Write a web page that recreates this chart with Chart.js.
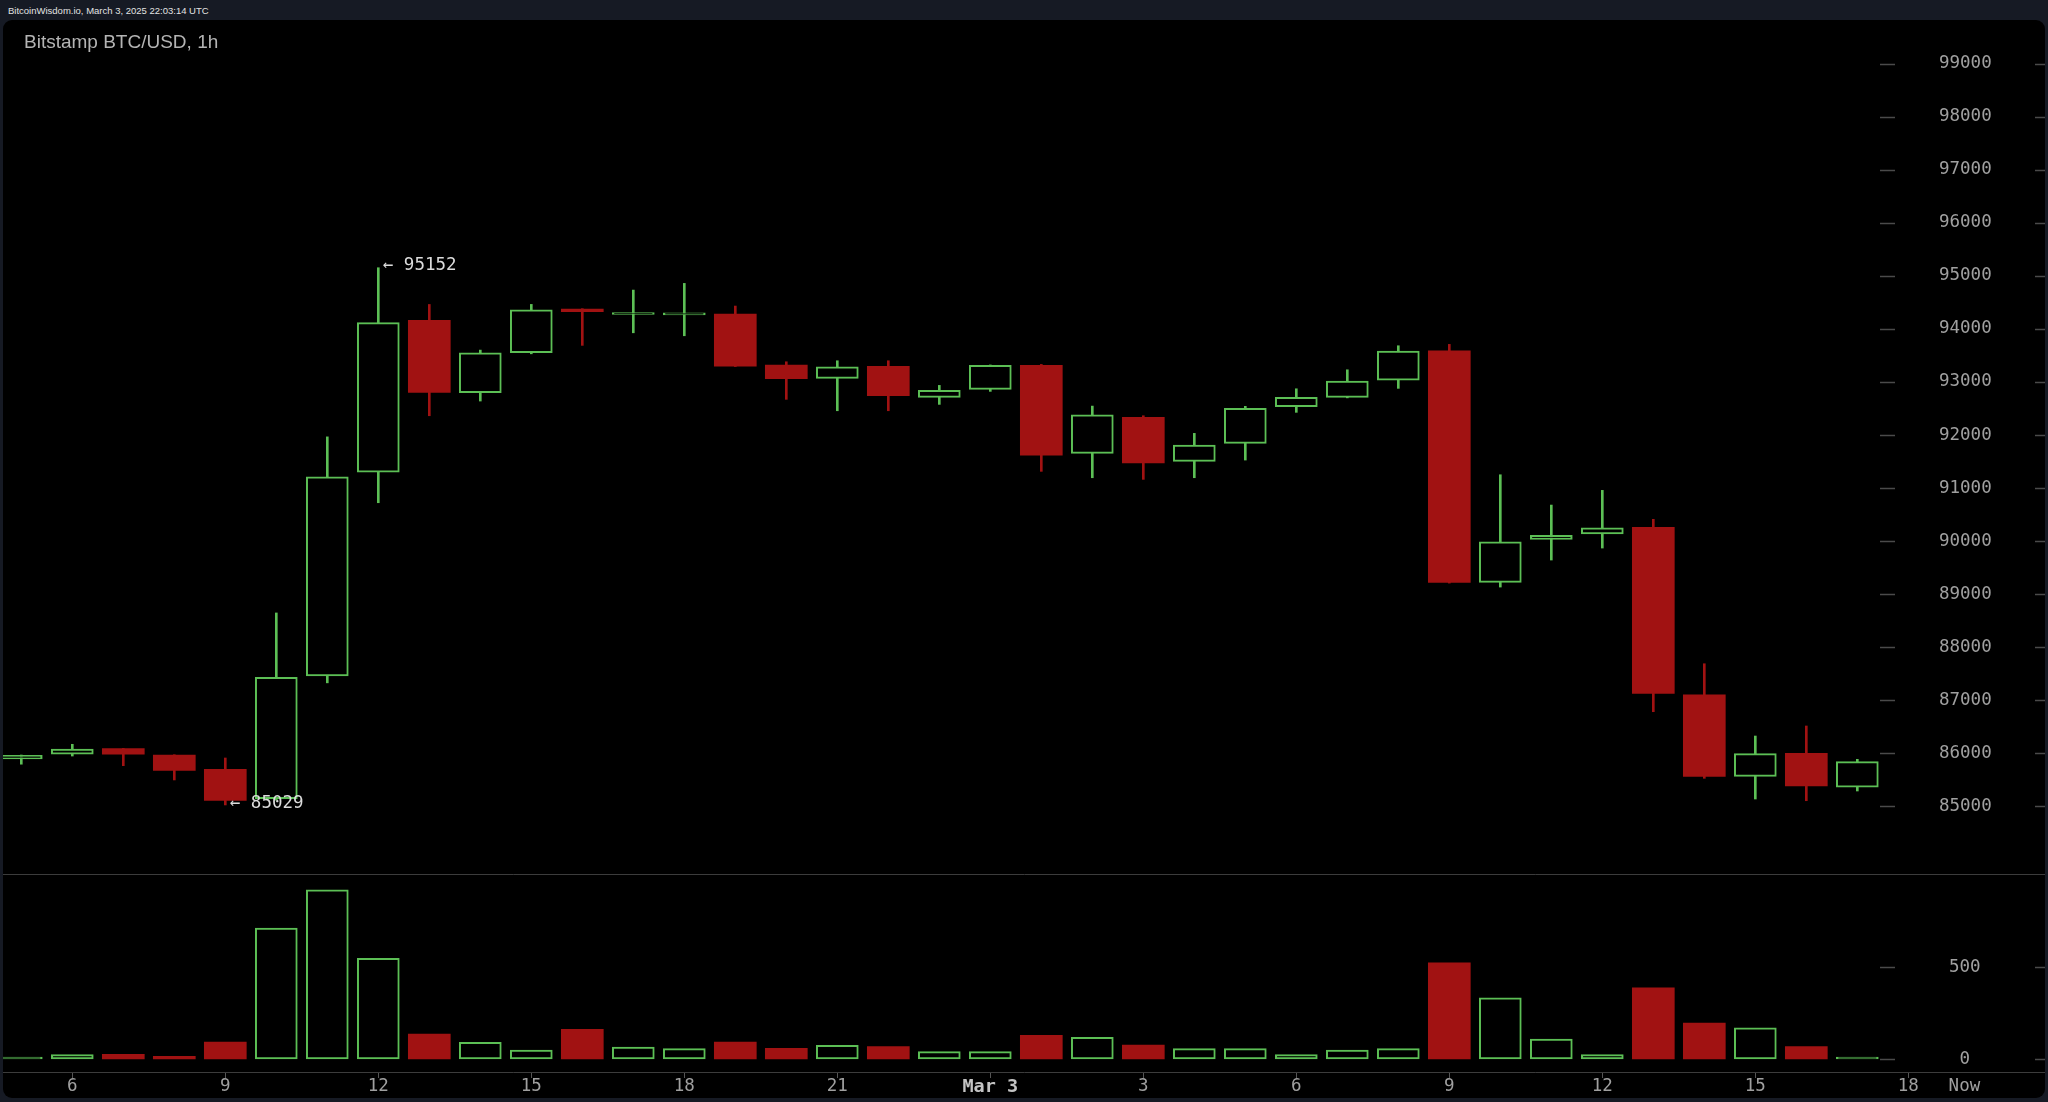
<!DOCTYPE html>
<html>
<head>
<meta charset="utf-8">
<script src="https://cdn.jsdelivr.net/npm/chart.js@4.4.1/dist/chart.umd.min.js"></script>
<style>
html,body{margin:0;padding:0;background:#161a24;width:2048px;height:1102px;overflow:hidden;}
#hdr{position:absolute;left:8px;top:5px;font:9.5px/12px "Liberation Sans",Arial,sans-serif;color:#e2e2e2;white-space:nowrap;}
#panel{position:absolute;left:3px;top:20px;width:2042px;height:1078px;background:#000;border-radius:9px;overflow:hidden;}
#title{position:absolute;left:21px;top:10px;font:19px/23px "Liberation Sans",Arial,sans-serif;color:#b4b4b4;z-index:2;white-space:nowrap;}
#pc{position:absolute;left:0;top:0;}
#vc{position:absolute;left:0;top:855px;}
</style>
</head>
<body>
<div id="hdr">BitcoinWisdom.io, March 3, 2025 22:03:14 UTC</div>
<div id="panel">
  <div id="title">Bitstamp BTC/USD, 1h</div>
  <canvas id="pc" width="2042" height="855"></canvas>
  <canvas id="vc" width="2042" height="223"></canvas>
</div>
<script>
// ---- data (hourly candles, Mar 2 05:00 -> Mar 3 17:00 UTC) ----
const hours = [5,6,7,8,9,10,11,12,13,14,15,16,17,18,19,20,21,22,23,0,1,2,3,4,5,6,7,8,9,10,11,12,13,14,15,16,17];
const opens  = [85895,85985,86089,85970,85699,85149,87462,91302,94160,92796,93550,94373,94270,94265,94279,93318,93067,93293,92709,92860,93312,91654,92332,91504,91843,92532,92709,93035,93587,89224,90034,90134,90260,87106,85569,86002,85362];
const highs  = [85970,86172,86095,85975,85914,88647,91965,95152,94460,93600,94461,94380,94731,94857,94430,93380,93399,93399,92935,93320,93330,92545,92363,92031,92540,92871,93229,93682,93708,91251,90680,90957,90411,87690,86328,86517,85889];
const lows   = [85797,85951,85769,85500,85029,85120,87330,90724,92363,92640,93530,93689,93926,93870,93290,92672,92457,92457,92577,92822,91315,91195,91164,91195,91528,92427,92700,92879,89210,89135,89644,89870,86786,85531,85141,85109,85292];
const closes = [85965,86083,85985,85678,85113,87434,91212,94119,92802,93550,94360,94322,94290,94275,93299,93060,93286,92740,92841,93312,91622,92382,91472,91811,92502,92709,93016,93582,89224,89989,90109,90253,87133,85569,85995,85386,85844];
const volumes = [5,24,25,15,92,712,920,547,135,90,49,161,65,56,92,58,74,67,40,40,128,118,76,56,56,24,49,56,523,333,108,24,387,195,170,67,5];

const priceTicks = [85000,86000,87000,88000,89000,90000,91000,92000,93000,94000,95000,96000,97000,98000,99000];
const volumeTicks = [0,500];
const xTickPositions = [1,4,7,10,13,16,19,22,25,28,31,34,37,38.1];
const xTickLabels = ['6','9','12','15','18','21','Mar 3','3','6','9','12','15','18','Now'];

// ---- view ----
const XMIN = -0.3588, XMAX = 39.68;
const PMIN = 83728, PMAX = 99820;
const VMIN = -70.65, VMAX = 1000;
const GREEN = '#5cbf55', RED = '#a11212';
const MONO = '"DejaVu Sans Mono", monospace';

const idx = opens.map((_, i) => i);
const up = idx.map(i => closes[i] >= opens[i]);

// right-hand value axis: zero-width box, labels allowed to draw outside the box
function rightAxisFit(s) {
  s.width = 0;
  s._computeLabelArea = () => undefined;
}

const tickDashes = {
  id: 'tickDashes',
  afterDraw(chart) {
    const ctx = chart.ctx, y = chart.scales.y;
    ctx.save();
    ctx.strokeStyle = '#4a4a4a';
    ctx.lineWidth = 1.5;
    y.ticks.forEach(t => {
      const py = Math.round(y.getPixelForValue(t.value)) + 0.5;
      ctx.beginPath();
      ctx.moveTo(1877, py); ctx.lineTo(1892, py);
      ctx.moveTo(2032, py); ctx.lineTo(2042, py);
      ctx.stroke();
    });
    ctx.restore();
  }
};

const extremes = {
  id: 'extremes',
  afterDatasetsDraw(chart) {
    const ctx = chart.ctx, x = chart.scales.x, y = chart.scales.y;
    let iHi = 0, iLo = 0;
    idx.forEach(i => { if (highs[i] > highs[iHi]) iHi = i; if (lows[i] < lows[iLo]) iLo = i; });
    ctx.save();
    ctx.font = '17.5px ' + MONO;
    ctx.fillStyle = '#dcdcdc';
    ctx.textAlign = 'left';
    ctx.textBaseline = 'middle';
    ctx.fillText('\u2190 ' + highs[iHi], x.getPixelForValue(iHi) + 4.5, y.getPixelForValue(highs[iHi]) - 2);
    ctx.fillText('\u2190 ' + lows[iLo], x.getPixelForValue(iLo) + 4.5, y.getPixelForValue(lows[iLo]) - 2);
    ctx.restore();
  }
};

const common = {
  animation: false,
  responsive: false,
  events: [],
  layout: { padding: 0 },
  plugins: { legend: { display: false }, tooltip: { enabled: false }, title: { display: false } }
};

new Chart(document.getElementById('pc'), {
  type: 'bar',
  data: {
    datasets: [
      {
        label: 'body',
        data: idx.map(i => ({ x: i, y: [opens[i], closes[i]] })),
        backgroundColor: idx.map(i => up[i] ? '#000000' : RED),
        borderColor: idx.map(i => up[i] ? GREEN : RED),
        borderWidth: idx.map(i => up[i] ? 2 : 0),
        borderSkipped: false,
        barThickness: 42,
        minBarLength: 2,
        grouped: false,
        order: 1
      },
      {
        label: 'wick',
        data: idx.map(i => ({ x: i, y: [lows[i], highs[i]] })),
        backgroundColor: idx.map(i => up[i] ? GREEN : RED),
        borderWidth: 0,
        barThickness: 2,
        grouped: false,
        order: 2
      }
    ]
  },
  options: Object.assign({}, common, {
    scales: {
      x: {
        type: 'linear', min: XMIN, max: XMAX, offset: false,
        ticks: { display: false },
        grid: { display: true, offset: false, drawOnChartArea: false, drawTicks: false },
        border: { display: true, color: '#3c3c3c', width: 1 },
        afterFit: s => { s.height = 1; }
      },
      y: {
        type: 'linear', position: 'right', min: PMIN, max: PMAX,
        afterBuildTicks: s => { s.ticks = priceTicks.map(v => ({ value: v })); },
        afterFit: rightAxisFit,
        grid: { display: false, drawTicks: false },
        border: { display: false },
        ticks: {
          autoSkip: false, crossAlign: 'center', padding: -106,
          color: '#a0a0a0', font: { family: MONO, size: 17.5 },
          callback: v => String(v)
        }
      }
    }
  }),
  plugins: [tickDashes, extremes]
});

new Chart(document.getElementById('vc'), {
  type: 'bar',
  data: {
    datasets: [
      {
        label: 'volume',
        data: idx.map(i => ({ x: i, y: volumes[i] })),
        backgroundColor: idx.map(i => up[i] ? '#000000' : RED),
        borderColor: idx.map(i => up[i] ? GREEN : RED),
        borderWidth: idx.map(i => up[i] ? 2 : 0),
        borderSkipped: false,
        barThickness: 42,
        minBarLength: 2,
        grouped: false
      }
    ]
  },
  options: Object.assign({}, common, {
    scales: {
      x: {
        type: 'linear', min: XMIN, max: XMAX, offset: false,
        afterBuildTicks: s => { s.ticks = xTickPositions.map(v => ({ value: v })); },
        afterFit: s => { s.height = 26; },
        grid: {
          display: true, offset: false, drawOnChartArea: false, drawTicks: true, tickLength: 6, tickWidth: 1,
          tickColor: c => (c.index === xTickLabels.length - 1 ? 'rgba(0,0,0,0)' : '#555555')
        },
        border: { display: true, color: '#3c3c3c', width: 1 },
        ticks: {
          autoSkip: false, maxRotation: 0, minRotation: 0, padding: -2,
          callback: (v, i) => xTickLabels[i],
          color: c => (xTickLabels[c.index] === 'Mar 3' ? '#c4c4c4' : '#a0a0a0'),
          font: c => (xTickLabels[c.index] === 'Mar 3'
            ? { family: MONO, size: 18.5, weight: 'bold' }
            : { family: MONO, size: 17.5 })
        }
      },
      y: {
        type: 'linear', position: 'right', min: VMIN, max: VMAX,
        afterBuildTicks: s => { s.ticks = volumeTicks.map(v => ({ value: v })); },
        afterFit: rightAxisFit,
        grid: { display: false, drawTicks: false },
        border: { display: false },
        ticks: {
          autoSkip: false, crossAlign: 'center', padding: -96,
          color: '#a0a0a0', font: { family: MONO, size: 17.5 },
          callback: v => String(v)
        }
      }
    }
  }),
  plugins: [tickDashes]
});
</script>
</body>
</html>
